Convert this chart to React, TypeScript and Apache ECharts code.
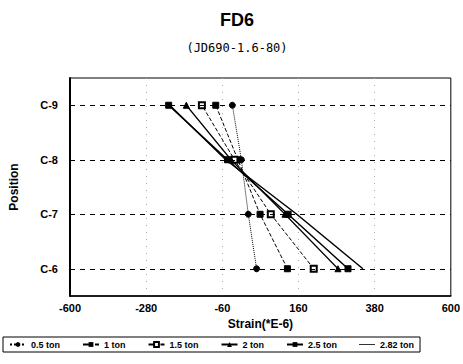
import React, { useEffect, useRef } from "react";
import * as echarts from "echarts";

const positions = ["C-6", "C-7", "C-8", "C-9"];
const xTickLabels = ["-600", "-280", "-60", "160", "380", "600"];
const seriesNames = ["0.5 ton", "1 ton", "1.5 ton", "2 ton", "2.5 ton", "2.82 ton"];
// values ordered C-6, C-7, C-8, C-9
const s05 = [39, 15, -5, -31];
const s10 = [128, 49, -15, -79];
const s15 = [204, 80, -25, -119];
const s20 = [274, 121, -35, -164];
const s25 = [303, 130, -45, -215];
const s282 = [346, 155, -50, -212];
const seriesValues = [s05, s10, s15, s20, s25, s282];

const FONT = "'Liberation Sans', Arial, sans-serif";

export default function App() {
  const ref = useRef<HTMLDivElement>(null);
  useEffect(() => {
    const chart = echarts.init(ref.current!, null, { renderer: "svg" });
    const symbols = ["circle", "rect", "emptyRect", "triangle", "rect", "none"];
    const lineTypes: any[] = ["dotted", "dashed", "dashed", "solid", "solid", "solid"];
    const widths = [1, 1, 1, 1.2, 1.5, 1.5];
    const series: any[] = seriesNames.map((name, i) => ({
      name,
      type: "line",
      data: seriesValues[i].map((v, j) => [v, positions[j]]),
      symbol: symbols[i],
      symbolSize: 6,
      showSymbol: symbols[i] !== "none",
      lineStyle: { color: "#000", width: widths[i], type: lineTypes[i] },
      itemStyle: { color: "#000", borderColor: "#000" },
      z: 3,
    }));
    series[0].markLine = {
      silent: true,
      symbol: "none",
      label: { show: false },
      lineStyle: { color: "#000", type: [5, 5], width: 1 },
      data: positions.map((p) => ({ yAxis: p })),
    };
    const legendData: any[] = seriesNames.map((n, i) =>
      i === 5 ? { name: n, icon: "path://M0,0L0,0M0,2.6L16,2.6L16,3.4L0,3.4ZM0,6L0,6" } : { name: n }
    );
    chart.setOption({
      animation: false,
      backgroundColor: "#fff",
      title: [
        {
          text: "FD6",
          left: 232,
          top: 6,
          textAlign: "center",
          textStyle: { fontFamily: FONT, fontWeight: 900, fontSize: 18, color: "#000" },
        },
        {
          text: "(JD690-1.6-80)",
          left: 232,
          top: 37,
          textAlign: "center",
          textStyle: { fontFamily: "'DejaVu Sans Mono', monospace", fontWeight: "normal", fontSize: 12, color: "#000" },
        },
      ],
      grid: { left: 69, right: 11, top: 78, bottom: 68, show: true, borderColor: "#000", borderWidth: 1 },
      xAxis: {
        type: "value",
        min: -500,
        max: 600,
        interval: 220,
        name: "Strain(*E-6)",
        nameLocation: "middle",
        nameGap: 19,
        nameTextStyle: { fontFamily: FONT, fontWeight: "bold", fontSize: 12, color: "#000" },
        axisLine: { show: true, onZero: false, lineStyle: { color: "#000", width: 1.5 } },
        axisTick: { show: false },
        axisLabel: {
          fontFamily: FONT,
          fontWeight: "bold",
          fontSize: 11,
          color: "#000",
          margin: 6,
          formatter: (v: number) => xTickLabels[Math.round((v + 500) / 220)] ?? "",
        },
        splitLine: { show: true, lineStyle: { color: "#aaa", type: [1, 6], width: 1 } },
      },
      yAxis: {
        type: "category",
        data: positions,
        boundaryGap: true,
        name: "Position",
        nameLocation: "middle",
        nameGap: 50,
        nameRotate: 90,
        nameTextStyle: { fontFamily: FONT, fontWeight: "bold", fontSize: 12, color: "#000" },
        axisLine: { show: true, onZero: false, lineStyle: { color: "#000", width: 2 } },
        axisTick: { show: false },
        axisLabel: { fontFamily: FONT, fontWeight: "bold", fontSize: 11, color: "#000", margin: 12 },
        splitLine: { show: false },
      },
      legend: {
        data: legendData,
        left: 3,
        top: 337,
        itemWidth: 16,
        itemHeight: 6,
        itemGap: 22,
        padding: [3, 6],
        borderColor: "#000",
        borderWidth: 1,
        textStyle: { fontFamily: FONT, fontWeight: "bold", fontSize: 9, color: "#000" },
      },
      series,
    });
    return () => chart.dispose();
  }, []);
  return <div ref={ref} style={{ position: "absolute", left: 0, top: 0, width: 463, height: 364 }} />;
}
